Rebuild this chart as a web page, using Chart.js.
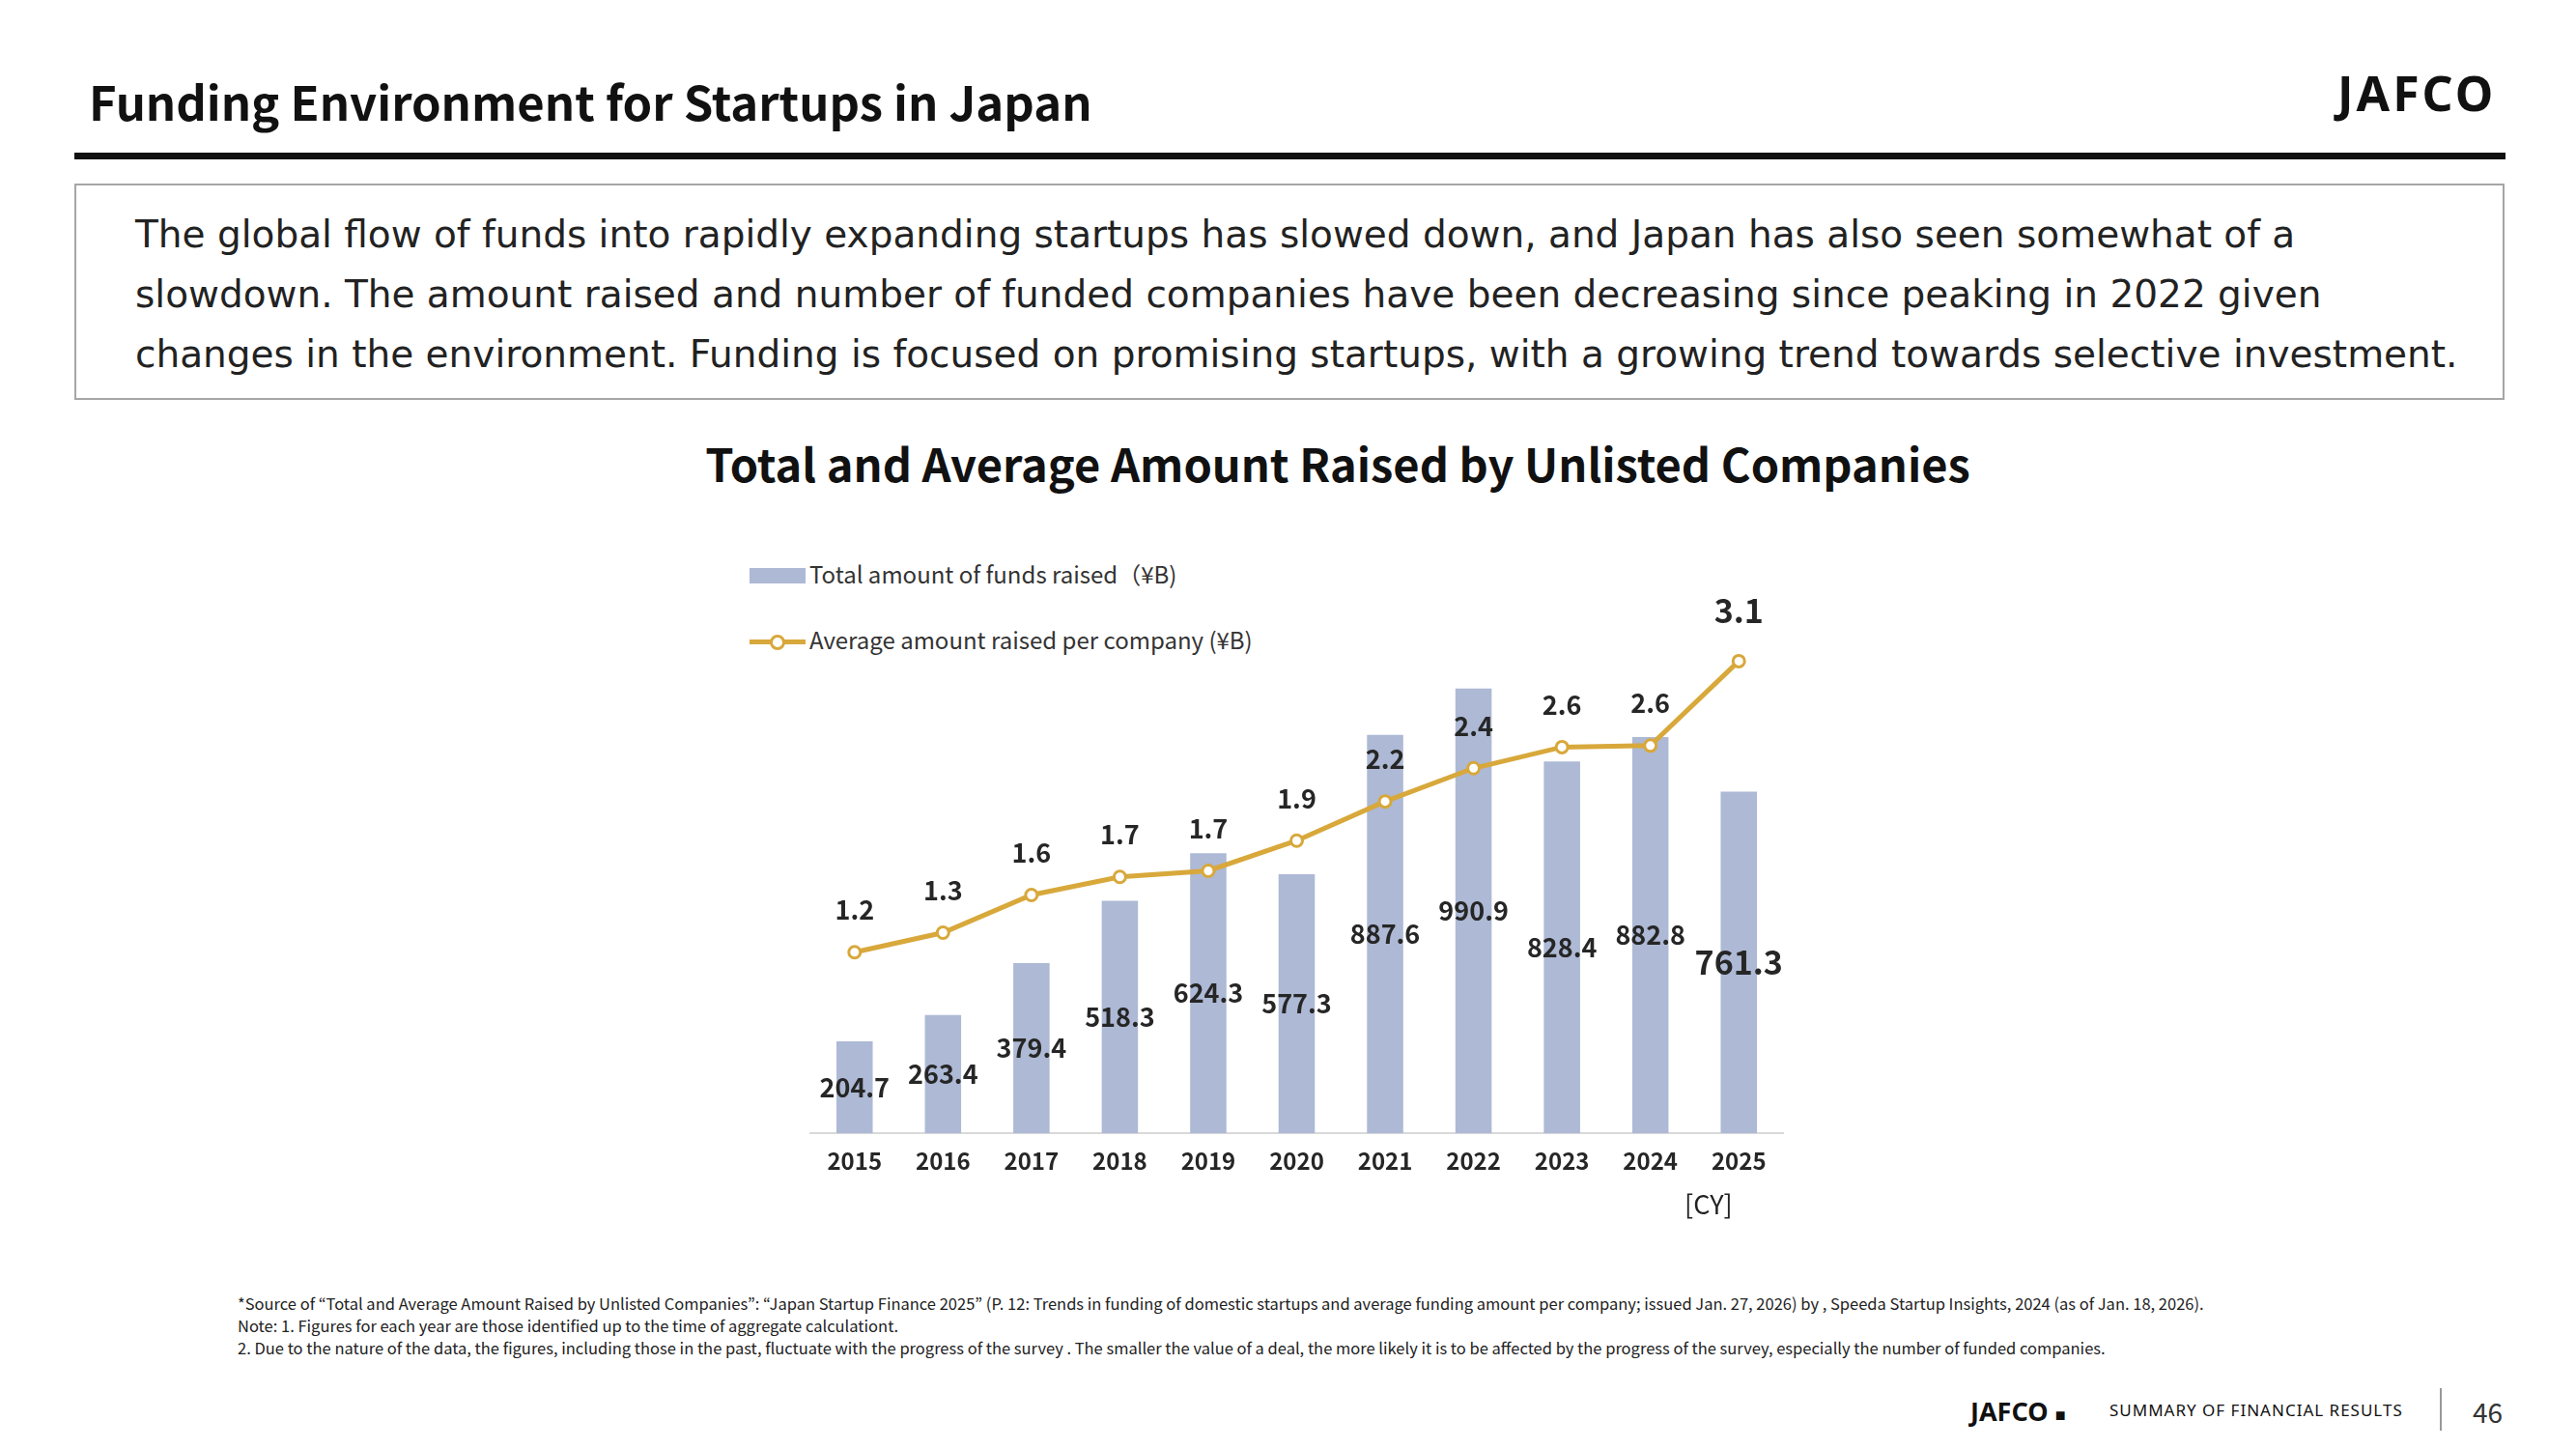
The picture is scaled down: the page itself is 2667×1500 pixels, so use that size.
<!DOCTYPE html>
<html lang="en">
<head>
<meta charset="UTF-8" />
<title>Funding Environment for Startups in Japan</title>
<script src="https://cdn.jsdelivr.net/npm/chart.js"></script>
<style>
  body { margin: 0; width: 2667px; height: 1500px; background: #fff; position: relative; font-family: "Noto Sans CJK JP", "Noto Sans", sans-serif; color: #111; overflow: hidden; }
  .abs { position: absolute; white-space: nowrap; }
</style>
</head>
<body>
  <div class="abs" style="left:92px;top:68px;font-size:49px;font-weight:700;">Funding Environment for Startups in Japan</div>
  <div class="abs" style="left:2420px;top:62px;font-size:50px;font-weight:700;letter-spacing:3px;font-family:'Noto Sans';">JAFCO</div>
  <div class="abs" style="left:77px;top:158px;width:2517px;height:7px;background:#111;"></div>
  <div class="abs" style="left:77px;top:190px;width:2512px;height:220px;border:2px solid #a6a6a6;"></div>
  <div class="abs" style="left:140px;top:212px;font-size:39px;line-height:62px;color:#222;font-family:'DejaVu Sans';">
    The global flow of funds into rapidly expanding startups has slowed down, and Japan has also seen somewhat of a<br>
    slowdown. The amount raised and number of funded companies have been decreasing since peaking in 2022 given<br>
    changes in the environment. Funding is focused on promising startups, with a growing trend towards selective investment.
  </div>
  <div class="abs" style="left:0;width:2770px;text-align:center;top:444px;font-size:47px;font-weight:700;">Total and Average Amount Raised by Unlisted Companies</div>

  <div class="abs" style="left:776px;top:576px;font-size:24px;color:#333;"><span style="display:inline-block;width:58px;height:16px;background:#adb9d5;margin-right:4px;"></span>Total amount of funds raised（¥B)</div>
  <div class="abs" style="left:776px;top:644px;font-size:24px;color:#333;"><span style="display:inline-block;width:58px;height:16px;margin-right:4px;position:relative;"><span style="position:absolute;left:0;top:6px;width:58px;height:5px;background:#d8a83b;"></span><span style="position:absolute;left:21px;top:1px;width:10px;height:10px;border:3px solid #d8a83b;border-radius:50%;background:#fff;"></span></span>Average amount raised per company (¥B)</div>

  <div class="abs" style="left:800px;top:550px;width:1090px;height:680px;"><canvas id="c"></canvas></div>
  <div class="abs" style="left:1744px;top:1226px;font-size:27px;color:#222;">[CY]</div>

  <div class="abs" style="left:246px;top:1338px;font-size:16.5px;line-height:23px;color:#222;">
    *Source of “Total and Average Amount Raised by Unlisted Companies”: “Japan Startup Finance 2025” (P. 12: Trends in funding of domestic startups and average funding amount per company; issued Jan. 27, 2026) by , Speeda Startup Insights, 2024 (as of Jan. 18, 2026).<br>
    Note: 1. Figures for each year are those identified up to the time of aggregate calculationt.<br>
    2. Due to the nature of the data, the figures, including those in the past, fluctuate with the progress of the survey . The smaller the value of a deal, the more likely it is to be affected by the progress of the survey, especially the number of funded companies.
  </div>
  <div class="abs" style="left:2040px;top:1442px;font-size:27px;font-weight:700;font-family:'Noto Sans';">JAFCO <span style="font-size:18px;">■</span></div>
  <div class="abs" style="left:2184px;top:1448px;font-size:17px;letter-spacing:1px;font-family:'Noto Sans';">SUMMARY OF FINANCIAL RESULTS</div>
  <div class="abs" style="left:2526px;top:1437px;width:2px;height:44px;background:#999;"></div>
  <div class="abs" style="left:2560px;top:1441px;font-size:28px;color:#333;">46</div>

<script>
const years = ["2015","2016","2017","2018","2019","2020","2021","2022","2023","2024","2025"];
const totalRaised = [204.7, 263.4, 379.4, 518.3, 624.3, 577.3, 887.6, 990.9, 828.4, 882.8, 761.3];
const avgRaised = [1.2, 1.3, 1.6, 1.7, 1.7, 1.9, 2.2, 2.4, 2.6, 2.6, 3.1];
const avgPlot = [1.2, 1.33, 1.58, 1.7, 1.74, 1.94, 2.2, 2.42, 2.56, 2.57, 3.13];

const labelPlugin = {
  id: "labels",
  afterDatasetsDraw(chart) {
    const ctx = chart.ctx;
    ctx.save();
    ctx.textAlign = "center";
    ctx.textBaseline = "middle";
    ctx.fillStyle = "#262626";
    const yL = chart.scales.y;
    chart.getDatasetMeta(1).data.forEach((bar, i) => {
      const last = i === totalRaised.length - 1;
      ctx.font = "700 " + (last ? 34 : 27) + "px 'Noto Sans CJK JP'";
      const mid = (bar.y + yL.getPixelForValue(0)) / 2;
      ctx.fillText(totalRaised[i].toFixed(1), bar.x, mid);
    });
    chart.getDatasetMeta(0).data.forEach((pt, i) => {
      const last = i === avgRaised.length - 1;
      ctx.font = "700 " + (last ? 34 : 27) + "px 'Noto Sans CJK JP'";
      ctx.fillText(avgRaised[i].toFixed(1), pt.x, pt.y - (last ? 52 : 44));
    });
    ctx.restore();
  }
};

new Chart(document.getElementById("c"), {
  data: {
    labels: years,
    datasets: [
      { type: "line", data: avgPlot, yAxisID: "y2", borderColor: "#d8a83b", borderWidth: 5,
        pointRadius: 6, pointBorderWidth: 3, pointBackgroundColor: "#fff", pointBorderColor: "#d8a83b", tension: 0 },
      { type: "bar", data: totalRaised, yAxisID: "y", backgroundColor: "#adb9d5",
        categoryPercentage: 1, barPercentage: 0.41 }
    ]
  },
  options: {
    responsive: true, maintainAspectRatio: false, animation: false,
    layout: { padding: { left: 39, right: 44, top: 61, bottom: 0 } },
    plugins: { legend: { display: false }, tooltip: { enabled: false } },
    scales: {
      x: { grid: { display: false, drawTicks: false }, border: { color: "#d9d9d9", width: 2 },
        ticks: { color: "#262626", padding: 14, font: { family: "Noto Sans CJK JP", size: 24, weight: "700" } } },
      y: { display: false, min: 0, max: 1210 },
      y2: { display: false, position: "right", min: 0, max: 3.6 }
    }
  },
  plugins: [labelPlugin]
});
</script>
</body>
</html>
